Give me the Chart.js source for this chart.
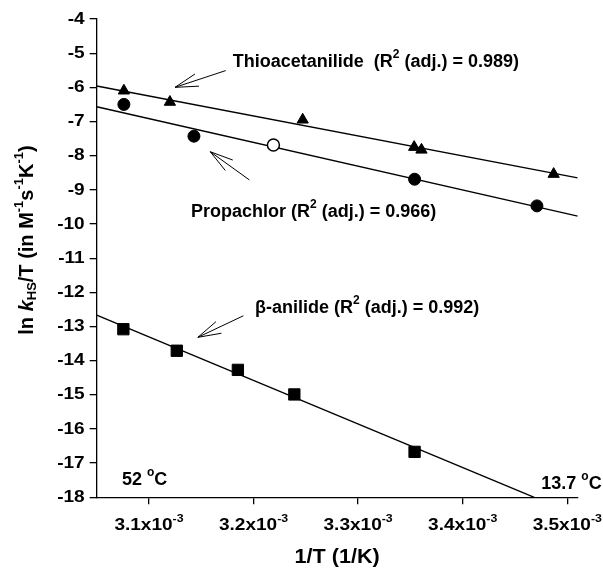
<!DOCTYPE html>
<html>
<head>
<meta charset="utf-8">
<script src="https://cdn.jsdelivr.net/npm/chart.js@4.4.0/dist/chart.umd.min.js"></script>
<style>
  html, body { margin: 0; padding: 0; background: #fff; }
</style>
</head>
<body>
<canvas id="arrhenius" width="603" height="569"></canvas>
<script>
/* Arrhenius-type plot: ln(kHS/T) vs 1/T for three anilides */

// thioacetanilide (triangles)
const thioX = [3.076e-3, 3.120e-3, 3.247e-3, 3.3536e-3, 3.3606e-3, 3.487e-3];
const thioY = [-6.10, -6.43, -6.95, -7.75, -7.83, -8.54];
// propachlor (filled circles + one open circle)
const propX = [3.076e-3, 3.143e-3, 3.354e-3, 3.471e-3];
const propY = [-6.50, -7.43, -8.69, -9.47];
const propOpenX = [3.219e-3];
const propOpenY = [-7.69];
// beta-anilide (squares)
const betaX = [3.0755e-3, 3.1266e-3, 3.185e-3, 3.239e-3, 3.354e-3];
const betaY = [-13.08, -13.71, -14.27, -14.99, -16.67];

// regression line end points as drawn
const thioFitX = [3.05e-3, 3.51e-3];
const thioFitY = [-5.96, -8.65];
const propFitX = [3.05e-3, 3.51e-3];
const propFitY = [-6.57, -9.77];
const betaFitX = [3.05e-3, 3.4685e-3];
const betaFitY = [-12.67, -18];

// axes
const xTicks = [3.1e-3, 3.2e-3, 3.3e-3, 3.4e-3, 3.5e-3];
const xTickLabels = ['3.1x10', '3.2x10', '3.3x10', '3.4x10', '3.5x10'];
const yTicks = [-4, -5, -6, -7, -8, -9, -10, -11, -12, -13, -14, -15, -16, -17, -18];

const FONT = '"Liberation Sans", Arial, sans-serif';
const pts = (xs, ys) => xs.map((x, i) => ({ x, y: ys[i] }));

// draws a run of [text, kind] pieces; kind: '' | 'sup' | 'sub' | 'it'
// sx widens the glyphs a little where the original lettering is broad
function richText(ctx, parts, x, y, size, align, sx = 1) {
  const fontFor = k => (k === 'it' ? 'italic bold ' : 'bold ') +
    (k === 'sup' || k === 'sub' ? Math.round(size * 0.66) : size) + 'px ' + FONT;
  let w = 0;
  parts.forEach(([t, k]) => { ctx.font = fontFor(k); w += ctx.measureText(t).width; });
  w *= sx;
  const x0 = align === 'center' ? x - w / 2 : align === 'right' ? x - w : x;
  ctx.save();
  ctx.translate(x0, y);
  ctx.scale(sx, 1);
  ctx.textBaseline = 'middle';
  ctx.textAlign = 'left';
  let cx = 0;
  parts.forEach(([t, k]) => {
    ctx.font = fontFor(k);
    const dy = k === 'sup' ? -size * 0.4 : k === 'sub' ? size * 0.25 : 0;
    ctx.fillText(t, cx, dy);
    cx += ctx.measureText(t).width;
  });
  ctx.restore();
}

function arrow(ctx, tip, tail) {
  const a = Math.atan2(tail.y - tip.y, tail.x - tip.x);
  const head = 24, spread = 0.27;
  ctx.beginPath();
  ctx.moveTo(tail.x, tail.y);
  ctx.lineTo(tip.x, tip.y);
  ctx.moveTo(tip.x + head * Math.cos(a - spread), tip.y + head * Math.sin(a - spread));
  ctx.lineTo(tip.x, tip.y);
  ctx.lineTo(tip.x + head * Math.cos(a + spread), tip.y + head * Math.sin(a + spread));
  ctx.stroke();
}

const labelPlugin = {
  id: 'labels',
  afterDraw(chart, args, opts) {
    const { ctx, chartArea } = chart;
    const xs = chart.scales.x, ys = chart.scales.y;
    ctx.save();
    ctx.fillStyle = '#000';
    ctx.strokeStyle = '#000';
    ctx.lineWidth = 1;

    // y tick labels
    yTicks.forEach(v => {
      richText(ctx, [[String(v), '']], chartArea.left - 12, ys.getPixelForValue(v), 17, 'right', 1.12);
    });
    // x tick labels with superscript exponent
    xTicks.forEach((v, i) => {
      richText(ctx, [[xTickLabels[i], ''], ['-3', 'sup']], xs.getPixelForValue(v), chartArea.bottom + 28, 17, 'center', 1.12);
    });

    // axis titles
    richText(ctx, [['1/T (1/K)', '']], (chartArea.left + chartArea.right) / 2, 557, 20, 'center', 1.08);
    ctx.save();
    ctx.translate(27, 240);
    ctx.rotate(-Math.PI / 2);
    richText(ctx, [['ln ', ''], ['k', 'it'], ['HS', 'sub'], ['/T (in M', ''], ['-1', 'sup'], ['s', ''],
      ['-1', 'sup'], ['K', ''], ['-1', 'sup'], [')', '']], 0, 0, 20, 'center');
    ctx.restore();

    // annotations, anchored in data coordinates
    opts.notes.forEach(n => {
      richText(ctx, n.text, xs.getPixelForValue(n.at[0]), ys.getPixelForValue(n.at[1]), 18, 'left');
      if (n.tip) {
        arrow(ctx,
          { x: xs.getPixelForValue(n.tip[0]), y: ys.getPixelForValue(n.tip[1]) },
          { x: xs.getPixelForValue(n.tail[0]), y: ys.getPixelForValue(n.tail[1]) });
      }
    });
    ctx.restore();
  }
};

const axisGrid = { drawOnChartArea: false, drawTicks: true, tickLength: 7, color: '#000', lineWidth: 1.3 };

new Chart(document.getElementById('arrhenius'), {
  type: 'scatter',
  data: {
    datasets: [
      { data: pts(thioX, thioY), pointStyle: 'triangle', pointRadius: 6.5, backgroundColor: '#000', borderColor: '#000', borderWidth: 1, order: 0 },
      { data: pts(propX, propY), pointStyle: 'circle', pointRadius: 6, backgroundColor: '#000', borderColor: '#000', borderWidth: 1, order: 0 },
      { data: pts(propOpenX, propOpenY), pointStyle: 'circle', pointRadius: 6, backgroundColor: '#fff', borderColor: '#000', borderWidth: 1.5, order: 0 },
      { data: pts(betaX, betaY), pointStyle: 'rect', pointRadius: 8, backgroundColor: '#000', borderColor: '#000', borderWidth: 1, order: 0 },
      { data: pts(thioFitX, thioFitY), showLine: true, pointRadius: 0, borderColor: '#000', borderWidth: 1.4, order: 1 },
      { data: pts(propFitX, propFitY), showLine: true, pointRadius: 0, borderColor: '#000', borderWidth: 1.4, order: 1 },
      { data: pts(betaFitX, betaFitY), showLine: true, pointRadius: 0, borderColor: '#000', borderWidth: 1.4, order: 1 }
    ]
  },
  options: {
    responsive: false,
    animation: false,
    devicePixelRatio: 1,
    layout: { padding: { left: 0, top: 19, right: 25.3, bottom: 0 } },
    plugins: {
      legend: { display: false },
      tooltip: { enabled: false },
      labels: {
        notes: [
          { text: [['Thioacetanilide  (R', ''], ['2', 'sup'], [' (adj.) = 0.989)', '']], at: [3.1801e-3, -5.26],
            tip: [3.1249e-3, -6.00], tail: [3.1734e-3, -5.51] },
          { text: [['Propachlor (R', ''], ['2', 'sup'], [' (adj.) = 0.966)', '']], at: [3.1402e-3, -9.64],
            tip: [3.1586e-3, -7.885], tail: [3.196e-3, -8.71] },
          { text: [['\u03b2-anilide (R', ''], ['2', 'sup'], [' (adj.) = 0.992)', '']], at: [3.2015e-3, -12.47],
            tip: [3.1467e-3, -13.318], tail: [3.1903e-3, -12.686] },
          { text: [['52 ', ''], ['o', 'sup'], ['C', '']], at: [3.0742e-3, -17.50] },
          { text: [['13.7 ', ''], ['o', 'sup'], ['C', '']], at: [3.4752e-3, -17.61] }
        ]
      }
    },
    scales: {
      x: {
        type: 'linear', position: 'bottom', min: 3.05e-3, max: 3.51e-3,
        afterBuildTicks: s => { s.ticks = xTicks.map(v => ({ value: v })); },
        afterFit: s => { s.height = 71.7; },
        ticks: { display: false },
        grid: axisGrid,
        border: { display: true, color: '#000', width: 1.3 }
      },
      y: {
        type: 'linear', min: -18, max: -4,
        afterBuildTicks: s => { s.ticks = yTicks.map(v => ({ value: v })); },
        afterFit: s => { s.width = 96.7; },
        ticks: { display: false },
        grid: axisGrid,
        border: { display: true, color: '#000', width: 1.3 }
      }
    }
  },
  plugins: [labelPlugin]
});
</script>
</body>
</html>
